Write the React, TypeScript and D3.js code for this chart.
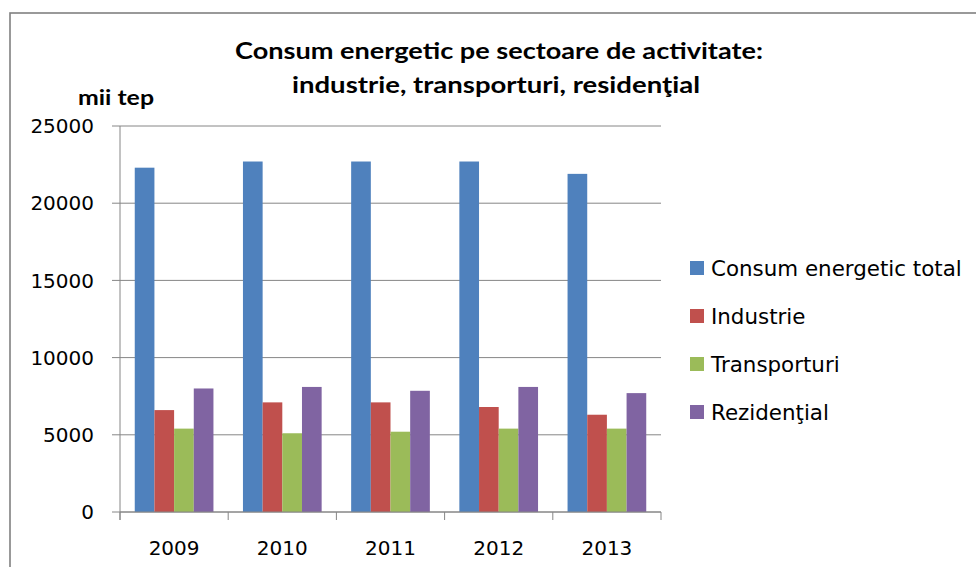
import React from "react";
import * as d3 from "d3";

const years = ["2009", "2010", "2011", "2012", "2013"];
const seriesNames = ["Consum energetic total", "Industrie", "Transporturi", "Rezidenţial"];
const totalValues = [22300, 22700, 22700, 22700, 21900];
const industrieValues = [6600, 7100, 7100, 6800, 6300];
const transportValues = [5400, 5100, 5200, 5400, 5400];
const rezidentialValues = [8000, 8100, 7850, 8100, 7700];
const yTicks = [0, 5000, 10000, 15000, 20000, 25000];
const colors = ["#4F81BD", "#C0504D", "#9BBB59", "#8064A2"];
const titleLines = ["Consum energetic pe sectoare de activitate:", "industrie, transporturi, residenţial"];
const yUnit = "mii tep";

const seriesValues = [totalValues, industrieValues, transportValues, rezidentialValues];

export default function App() {
  const W = 976;
  const H = 567;
  const left = 120;
  const right = 661;
  const top = 126;
  const bottom = 512;

  const x0 = d3.scaleBand<string>().domain(years).range([left, right]).paddingInner(0).paddingOuter(0);
  const x1 = d3
    .scaleBand<string>()
    .domain(seriesNames)
    .range([0, x0.bandwidth()])
    .paddingInner(0)
    .paddingOuter(0.75);
  const y = d3.scaleLinear().domain([0, 25000]).range([bottom, top]);

  const axisColor = "#868686";
  const tickFont = "'DejaVu Sans', Verdana, sans-serif";
  const titleFont = "Lato, 'Open Sans', sans-serif";

  const catEdges = years.map((yr) => x0(yr) as number).concat([right]);

  return (
    <svg
      width={W}
      height={H}
      viewBox={`0 0 ${W} ${H}`}
      style={{ position: "absolute", left: 0, top: 0, display: "block", background: "#fff" }}
    >
      <rect x={0} y={0} width={W} height={H} fill="#fff" />
      {/* chart frame */}
      <rect x={10} y={13} width={W + 50} height={H + 50} fill="none" stroke="#808080" strokeWidth={1.6} />

      {/* title */}
      <text
        x={499}
        y={59}
        textAnchor="middle"
        fontFamily={titleFont}
        fontWeight="bold"
        fontSize={23}
        fill="#000"
        textLength={528}
        lengthAdjust="spacingAndGlyphs"
      >
        {titleLines[0]}
      </text>
      <text
        x={496}
        y={93}
        textAnchor="middle"
        fontFamily={titleFont}
        fontWeight="bold"
        fontSize={23}
        fill="#000"
        textLength={408}
        lengthAdjust="spacingAndGlyphs"
      >
        {titleLines[1]}
      </text>
      <text
        x={78}
        y={105}
        fontFamily={titleFont}
        fontWeight="bold"
        fontSize={20}
        fill="#000"
        textLength={76}
        lengthAdjust="spacingAndGlyphs"
      >
        {yUnit}
      </text>

      {/* gridlines + y ticks */}
      {yTicks.map((t) => (
        <g key={t}>
          <line x1={left - 8} x2={right} y1={y(t)} y2={y(t)} stroke={axisColor} strokeWidth={1} />
          <text
            x={94}
            y={y(t)}
            dy="0.36em"
            textAnchor="end"
            fontFamily={tickFont}
            fontSize={20}
            fill="#000"
          >
            {t}
          </text>
        </g>
      ))}

      {/* y axis line */}
      <line x1={left} x2={left} y1={top} y2={bottom + 8} stroke={axisColor} strokeWidth={1} />

      {/* category ticks */}
      {catEdges.map((cx, i) => (
        <line key={i} x1={cx} x2={cx} y1={bottom} y2={bottom + 8} stroke={axisColor} strokeWidth={1} />
      ))}

      {/* bars */}
      {years.map((yr, i) => (
        <g key={yr} transform={`translate(${x0(yr)},0)`}>
          {seriesNames.map((s, j) => {
            const v = seriesValues[j][i];
            return (
              <rect
                key={s}
                x={x1(s) as number}
                y={y(v)}
                width={x1.bandwidth()}
                height={y(0) - y(v)}
                fill={colors[j]}
              />
            );
          })}
        </g>
      ))}

      {/* x axis line on top of bars */}
      <line x1={left} x2={right} y1={bottom} y2={bottom} stroke={axisColor} strokeWidth={1} />

      {/* x labels */}
      {years.map((yr) => (
        <text
          key={yr}
          x={(x0(yr) as number) + x0.bandwidth() / 2}
          y={555}
          textAnchor="middle"
          fontFamily={tickFont}
          fontSize={20}
          fill="#000"
        >
          {yr}
        </text>
      ))}

      {/* legend */}
      {seriesNames.map((s, j) => {
        const cy = 268 + j * 48;
        return (
          <g key={s}>
            <rect x={690} y={cy - 7} width={14} height={14} fill={colors[j]} />
            <text x={711} y={cy} dy="0.36em" fontFamily={tickFont} fontSize={21.4} fill="#000">
              {s}
            </text>
          </g>
        );
      })}
    </svg>
  );
}
